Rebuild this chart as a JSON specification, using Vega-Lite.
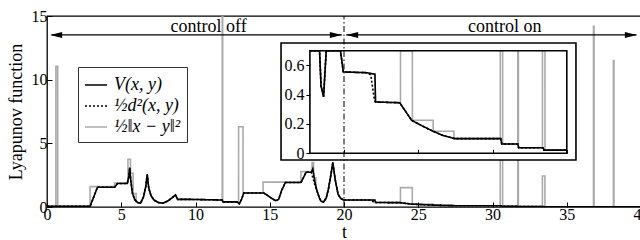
{
  "$schema": "https://vega.github.io/schema/vega-lite/v6.json",
  "width": 594,
  "height": 191,
  "autosize": "none",
  "padding": {"left": 47, "top": 16, "right": 0, "bottom": 33},
  "background": "white",
  "config": {
    "view": {"stroke": "black", "strokeWidth": 1.3},
    "font": "Liberation Serif",
    "axis": {"grid": false, "domain": false, "tickColor": "black", "labelColor": "black", "titleColor": "black", "labelFont": "Liberation Serif", "titleFont": "Liberation Serif", "titleFontWeight": "normal", "labelFontSize": 16, "titleFontSize": 18}
  },
  "datasets": {
    "curves": [
      {"s":"V","t":0,"v":0.05},{"s":"V","t":2.9,"v":0.05},{"s":"V","t":3.05,"v":0.5},{"s":"V","t":3.4,"v":1.55},{"s":"V","t":4.55,"v":1.55},{"s":"V","t":4.75,"v":1.85},{"s":"V","t":5.4,"v":1.85},{"s":"V","t":5.5,"v":2.3},{"s":"V","t":5.57,"v":3.1},{"s":"V","t":5.65,"v":2.0},{"s":"V","t":5.75,"v":1.1},{"s":"V","t":5.9,"v":0.6},{"s":"V","t":6.1,"v":0.35},{"s":"V","t":6.3,"v":0.3},{"s":"V","t":6.5,"v":0.8},{"s":"V","t":6.65,"v":1.6},{"s":"V","t":6.75,"v":2.55},{"s":"V","t":6.85,"v":1.5},{"s":"V","t":7.0,"v":0.9},{"s":"V","t":7.2,"v":0.55},{"s":"V","t":7.5,"v":0.35},{"s":"V","t":7.8,"v":0.3},{"s":"V","t":8.1,"v":0.45},{"s":"V","t":8.4,"v":0.7},{"s":"V","t":8.65,"v":0.95},{"s":"V","t":8.8,"v":0.6},{"s":"V","t":9.5,"v":0.6},{"s":"V","t":11.8,"v":0.55},{"s":"V","t":11.85,"v":0.4},{"s":"V","t":12.8,"v":0.4},{"s":"V","t":12.95,"v":0.25},{"s":"V","t":13.1,"v":0.6},{"s":"V","t":13.25,"v":1.1},{"s":"V","t":14.6,"v":1.1},{"s":"V","t":14.8,"v":0.95},{"s":"V","t":15.1,"v":0.7},{"s":"V","t":15.4,"v":0.5},{"s":"V","t":15.6,"v":0.6},{"s":"V","t":15.8,"v":1.3},{"s":"V","t":16.05,"v":1.92},{"s":"V","t":17.1,"v":1.92},{"s":"V","t":17.45,"v":2.73},{"s":"V","t":17.8,"v":2.73},{"s":"V","t":17.9,"v":3.0},{"s":"V","t":18.05,"v":1.9},{"s":"V","t":18.2,"v":1.2},{"s":"V","t":18.35,"v":0.7},{"s":"V","t":18.45,"v":0.46},{"s":"V","t":18.62,"v":0.385},{"s":"V","t":18.8,"v":0.7},{"s":"V","t":18.95,"v":1.4},{"s":"V","t":19.1,"v":2.4},{"s":"V","t":19.25,"v":3.5},{"s":"V","t":19.4,"v":2.2},{"s":"V","t":19.6,"v":1.0},{"s":"V","t":19.76,"v":0.7},{"s":"V","t":19.95,"v":0.555},{"s":"V","t":21.5,"v":0.55},{"s":"V","t":22.08,"v":0.54},{"s":"V","t":22.12,"v":0.35},{"s":"V","t":23.75,"v":0.345},{"s":"V","t":24.55,"v":0.225},{"s":"V","t":25.3,"v":0.185},{"s":"V","t":26.0,"v":0.15},{"s":"V","t":26.7,"v":0.12},{"s":"V","t":27.45,"v":0.1},{"s":"V","t":30.55,"v":0.1},{"s":"V","t":30.62,"v":0.063},{"s":"V","t":31.7,"v":0.063},{"s":"V","t":31.76,"v":0.038},{"s":"V","t":33.4,"v":0.038},{"s":"V","t":33.46,"v":0.022},{"s":"V","t":35,"v":0.022},{"s":"V","t":40,"v":0.015},
      {"s":"d","t":0,"v":0.05},{"s":"d","t":2.9,"v":0.05},{"s":"d","t":3.05,"v":0.5},{"s":"d","t":3.4,"v":1.55},{"s":"d","t":4.55,"v":1.55},{"s":"d","t":4.75,"v":1.85},{"s":"d","t":5.4,"v":1.85},{"s":"d","t":5.5,"v":2.3},{"s":"d","t":5.57,"v":3.1},{"s":"d","t":5.65,"v":2.0},{"s":"d","t":5.75,"v":1.1},{"s":"d","t":5.9,"v":0.6},{"s":"d","t":6.1,"v":0.35},{"s":"d","t":6.3,"v":0.3},{"s":"d","t":6.5,"v":0.8},{"s":"d","t":6.65,"v":1.6},{"s":"d","t":6.75,"v":2.55},{"s":"d","t":6.85,"v":1.5},{"s":"d","t":7.0,"v":0.9},{"s":"d","t":7.2,"v":0.55},{"s":"d","t":7.5,"v":0.35},{"s":"d","t":7.8,"v":0.3},{"s":"d","t":8.1,"v":0.45},{"s":"d","t":8.4,"v":0.7},{"s":"d","t":8.65,"v":0.95},{"s":"d","t":8.8,"v":0.6},{"s":"d","t":9.5,"v":0.6},{"s":"d","t":11.8,"v":0.55},{"s":"d","t":11.85,"v":0.4},{"s":"d","t":12.8,"v":0.4},{"s":"d","t":12.95,"v":0.25},{"s":"d","t":13.1,"v":0.6},{"s":"d","t":13.25,"v":1.1},{"s":"d","t":14.6,"v":1.1},{"s":"d","t":14.8,"v":0.95},{"s":"d","t":15.1,"v":0.7},{"s":"d","t":15.4,"v":0.5},{"s":"d","t":15.6,"v":0.6},{"s":"d","t":15.8,"v":1.3},{"s":"d","t":16.05,"v":1.92},{"s":"d","t":17.1,"v":1.92},{"s":"d","t":17.45,"v":2.73},{"s":"d","t":17.8,"v":2.73},{"s":"d","t":17.9,"v":2.3},{"s":"d","t":18.05,"v":1.7},{"s":"d","t":18.2,"v":1.2},{"s":"d","t":18.35,"v":0.7},{"s":"d","t":18.45,"v":0.46},{"s":"d","t":18.62,"v":0.385},{"s":"d","t":18.8,"v":0.7},{"s":"d","t":18.95,"v":1.4},{"s":"d","t":19.1,"v":2.4},{"s":"d","t":19.25,"v":3.5},{"s":"d","t":19.4,"v":2.2},{"s":"d","t":19.6,"v":1.0},{"s":"d","t":19.76,"v":0.7},{"s":"d","t":19.95,"v":0.555},{"s":"d","t":21.5,"v":0.55},{"s":"d","t":21.8,"v":0.535},{"s":"d","t":22.05,"v":0.36},{"s":"d","t":22.12,"v":0.35},{"s":"d","t":23.75,"v":0.345},{"s":"d","t":24.55,"v":0.225},{"s":"d","t":25.3,"v":0.185},{"s":"d","t":26.0,"v":0.15},{"s":"d","t":26.7,"v":0.12},{"s":"d","t":27.45,"v":0.1},{"s":"d","t":30.55,"v":0.1},{"s":"d","t":30.62,"v":0.063},{"s":"d","t":31.7,"v":0.063},{"s":"d","t":31.76,"v":0.038},{"s":"d","t":33.4,"v":0.038},{"s":"d","t":33.46,"v":0.022},{"s":"d","t":35,"v":0.022},{"s":"d","t":40,"v":0.015},
      {"s":"n","t":0,"v":0.05},{"s":"n","t":0.6,"v":0.05},{"s":"n","t":0.601,"v":11.05},{"s":"n","t":0.72,"v":11.05},{"s":"n","t":0.721,"v":0.05},{"s":"n","t":2.9,"v":0.05},{"s":"n","t":2.901,"v":1.6},{"s":"n","t":4.55,"v":1.6},{"s":"n","t":4.551,"v":1.88},{"s":"n","t":5.45,"v":1.88},{"s":"n","t":5.451,"v":3.75},{"s":"n","t":5.62,"v":3.75},{"s":"n","t":5.621,"v":2.65},{"s":"n","t":5.8,"v":2.65},{"s":"n","t":5.801,"v":1.05},{"s":"n","t":6.0,"v":1.05},{"s":"n","t":6.001,"v":0.4},{"s":"n","t":6.1,"v":0.35},{"s":"n","t":6.3,"v":0.3},{"s":"n","t":6.5,"v":0.8},{"s":"n","t":6.65,"v":1.6},{"s":"n","t":6.75,"v":2.55},{"s":"n","t":6.85,"v":1.5},{"s":"n","t":7.0,"v":0.9},{"s":"n","t":7.2,"v":0.55},{"s":"n","t":7.5,"v":0.35},{"s":"n","t":7.8,"v":0.3},{"s":"n","t":8.1,"v":0.45},{"s":"n","t":8.4,"v":0.7},{"s":"n","t":8.65,"v":0.95},{"s":"n","t":8.8,"v":0.6},{"s":"n","t":9.5,"v":0.6},{"s":"n","t":11.8,"v":0.55},{"s":"n","t":11.801,"v":16},{"s":"n","t":11.83,"v":16},{"s":"n","t":11.831,"v":0.4},{"s":"n","t":12.9,"v":0.4},{"s":"n","t":12.901,"v":6.3},{"s":"n","t":13.2,"v":6.3},{"s":"n","t":13.201,"v":1.1},{"s":"n","t":14.55,"v":1.1},{"s":"n","t":14.551,"v":1.95},{"s":"n","t":17.1,"v":1.95},{"s":"n","t":17.101,"v":2.78},{"s":"n","t":17.85,"v":2.78},{"s":"n","t":17.851,"v":3.5},{"s":"n","t":17.95,"v":3.5},{"s":"n","t":17.951,"v":2.3},{"s":"n","t":18.1,"v":2.3},{"s":"n","t":18.101,"v":1.5},{"s":"n","t":18.2,"v":1.2},{"s":"n","t":18.35,"v":0.7},{"s":"n","t":18.45,"v":0.46},{"s":"n","t":18.62,"v":0.385},{"s":"n","t":18.8,"v":0.7},{"s":"n","t":18.95,"v":1.4},{"s":"n","t":19.1,"v":2.4},{"s":"n","t":19.25,"v":3.5},{"s":"n","t":19.4,"v":2.2},{"s":"n","t":19.6,"v":1.0},{"s":"n","t":19.76,"v":0.7},{"s":"n","t":19.95,"v":0.555},{"s":"n","t":21.5,"v":0.55},{"s":"n","t":22.08,"v":0.54},{"s":"n","t":22.12,"v":0.35},{"s":"n","t":23.8,"v":0.345},{"s":"n","t":23.801,"v":1.52},{"s":"n","t":24.6,"v":1.52},{"s":"n","t":24.601,"v":0.225},{"s":"n","t":26.0,"v":0.225},{"s":"n","t":26.001,"v":0.15},{"s":"n","t":27.4,"v":0.15},{"s":"n","t":27.401,"v":0.1},{"s":"n","t":30.52,"v":0.1},{"s":"n","t":30.521,"v":7.0},{"s":"n","t":30.68,"v":7.0},{"s":"n","t":30.681,"v":0.063},{"s":"n","t":31.7,"v":0.063},{"s":"n","t":31.701,"v":8.0},{"s":"n","t":31.74,"v":8.0},{"s":"n","t":31.741,"v":0.038},{"s":"n","t":33.36,"v":0.038},{"s":"n","t":33.361,"v":2.44},{"s":"n","t":33.53,"v":2.44},{"s":"n","t":33.531,"v":0.022},{"s":"n","t":35,"v":0.021},{"s":"n","t":36.8,"v":0.02},{"s":"n","t":36.801,"v":14.2},{"s":"n","t":36.84,"v":14.2},{"s":"n","t":36.841,"v":0.02},{"s":"n","t":38.14,"v":0.018},{"s":"n","t":38.141,"v":11.5},{"s":"n","t":38.18,"v":11.5},{"s":"n","t":38.181,"v":0.018},{"s":"n","t":40,"v":0.015}
    ]
  },
  "data": {"name": "curves"},
  "resolve": {"scale": {"x": "independent", "y": "independent"}, "axis": {"x": "independent", "y": "independent"}},
  "layer": [
    {
      "layer": [
        {
          "transform": [{"filter": "datum.s == 'n'"}],
          "mark": {"type": "line", "clip": true, "strokeWidth": 1.6},
          "encoding": {
            "x": {"field": "t", "type": "quantitative", "scale": {"domain": [0, 40], "nice": false},
                  "axis": {"orient": "bottom", "values": [0,5,10,15,20,25,30,35,40], "title": "t", "tickSize": -5, "labelPadding": 4, "titlePadding": 1, "labelFlush": false, "zindex": 3}},
            "y": {"field": "v", "type": "quantitative", "scale": {"domain": [0, 15], "nice": false},
                  "axis": {"orient": "left", "values": [0,5,10,15], "title": "Lyapunov function", "tickSize": -5, "labelPadding": 5, "titlePadding": 6, "zindex": 3}},
            "color": {"field": "s", "type": "nominal", "scale": {"domain": ["V","d","n"], "range": ["black","black","#aaaaaa"]},
                      "legend": {"orient": "none", "legendX": 31, "legendY": 51, "title": null, "strokeColor": "#333", "fillColor": "white", "padding": 6, "symbolType": "stroke", "symbolSize": 484, "symbolStrokeWidth": 1.5, "labelFont": "Liberation Serif", "labelFontSize": 18, "labelFontStyle": "italic", "labelColor": "black", "rowPadding": 0, "labelOffset": 6,
                                 "labelExpr": "datum.value == 'V' ? 'V(x, y)' : datum.value == 'd' ? '½d²(x, y)' : '½‖x − y‖²'"}},
            "strokeDash": {"field": "s", "type": "nominal", "scale": {"domain": ["V","d","n"], "range": [[1,0],[2,2],[1,0]]}, "legend": null}
          }
        },
        {
          "transform": [{"filter": "datum.s == 'V'"}],
          "mark": {"type": "line", "clip": true, "strokeWidth": 1.6},
          "encoding": {
            "x": {"field": "t", "type": "quantitative"},
            "y": {"field": "v", "type": "quantitative"},
            "color": {"field": "s", "type": "nominal"},
            "strokeDash": {"field": "s", "type": "nominal"}
          }
        },
        {
          "transform": [{"filter": "datum.s == 'd'"}],
          "mark": {"type": "line", "clip": true, "strokeWidth": 1.6},
          "encoding": {
            "x": {"field": "t", "type": "quantitative"},
            "y": {"field": "v", "type": "quantitative"},
            "color": {"field": "s", "type": "nominal"},
            "strokeDash": {"field": "s", "type": "nominal"}
          }
        },
        {
          "data": {"values": [{}]},
          "mark": {"type": "rect", "fill": "white", "stroke": "black", "strokeWidth": 1.6},
          "encoding": {
            "x": {"datum": 15.76, "type": "quantitative"}, "x2": {"datum": 35.62},
            "y": {"datum": 3.69, "type": "quantitative"}, "y2": {"datum": 12.88}
          }
        },
        {
          "data": {"values": [{}]},
          "mark": {"type": "rule", "color": "black", "strokeWidth": 1, "strokeDash": [6, 2.5, 1.5, 2.5]},
          "encoding": {
            "x": {"datum": 20, "type": "quantitative"},
            "y": {"datum": 0, "type": "quantitative"}, "y2": {"datum": 15}
          }
        },
        {
          "data": {"values": [{}]},
          "mark": {"type": "rule", "color": "black", "strokeWidth": 1.2},
          "encoding": {
            "x": {"datum": 0.3, "type": "quantitative"}, "x2": {"datum": 19.85},
            "y": {"datum": 13.51, "type": "quantitative"}
          }
        },
        {
          "data": {"values": [{}]},
          "mark": {"type": "rule", "color": "black", "strokeWidth": 1.2},
          "encoding": {
            "x": {"datum": 20.15, "type": "quantitative"}, "x2": {"datum": 39.7},
            "y": {"datum": 13.51, "type": "quantitative"}
          }
        },
        {
          "data": {"values": [{}]},
          "mark": {"type": "point", "filled": true, "color": "black", "opacity": 1, "size": 144, "shape": "M-1,0L1,-0.5L1,0.5Z"},
          "encoding": {
            "x": {"datum": 0.62, "type": "quantitative"},
            "y": {"datum": 13.51, "type": "quantitative"}
          }
        },
        {
          "data": {"values": [{}]},
          "mark": {"type": "point", "filled": true, "color": "black", "opacity": 1, "size": 144, "shape": "M-1,0L1,-0.5L1,0.5Z"},
          "encoding": {
            "x": {"datum": 20.55, "type": "quantitative"},
            "y": {"datum": 13.51, "type": "quantitative"}
          }
        },
        {
          "data": {"values": [{}]},
          "mark": {"type": "point", "filled": true, "color": "black", "opacity": 1, "size": 144, "shape": "M1,0L-1,-0.5L-1,0.5Z"},
          "encoding": {
            "x": {"datum": 19.45, "type": "quantitative"},
            "y": {"datum": 13.51, "type": "quantitative"}
          }
        },
        {
          "data": {"values": [{}]},
          "mark": {"type": "point", "filled": true, "color": "black", "opacity": 1, "size": 144, "shape": "M1,0L-1,-0.5L-1,0.5Z"},
          "encoding": {
            "x": {"datum": 39.32, "type": "quantitative"},
            "y": {"datum": 13.51, "type": "quantitative"}
          }
        },
        {
          "data": {"values": [{"label": "control off", "t": 10.88}, {"label": "control on", "t": 30.82}]},
          "mark": {"type": "text", "font": "Liberation Serif", "fontSize": 18, "baseline": "alphabetic", "align": "center", "color": "black"},
          "encoding": {
            "x": {"field": "t", "type": "quantitative"},
            "y": {"datum": 13.74, "type": "quantitative"},
            "text": {"field": "label"}
          }
        }
      ]
    },
    {
      "transform": [{"filter": "datum.t >= 17.3 && datum.t <= 36.5"}],
      "layer": [
        {
          "transform": [{"filter": "datum.s == 'n'"}],
          "mark": {"type": "line", "strokeWidth": 1.6},
          "encoding": {
            "x": {"field": "t", "type": "quantitative", "scale": {"domain": [17.7, 35], "range": [262.9, 519.8], "nice": false, "clamp": true},
                  "axis": {"orient": "bottom", "offset": -53.7, "values": [20, 25, 30, 35], "labels": false, "title": null, "tickSize": -4, "zindex": 3}},
            "y": {"field": "v", "type": "quantitative", "scale": {"domain": [0, 0.7], "range": [137.3, 34.7], "nice": false, "clamp": true},
                  "axis": {"orient": "left", "offset": -262.9, "values": [0, 0.2, 0.4, 0.6], "format": "~g", "title": null, "tickSize": 4, "labelPadding": 2, "zindex": 3}},
            "color": {"field": "s", "type": "nominal"},
            "strokeDash": {"field": "s", "type": "nominal"}
          }
        },
        {
          "transform": [{"filter": "datum.s == 'V'"}],
          "mark": {"type": "line", "strokeWidth": 1.6},
          "encoding": {
            "x": {"field": "t", "type": "quantitative"},
            "y": {"field": "v", "type": "quantitative"},
            "color": {"field": "s", "type": "nominal"},
            "strokeDash": {"field": "s", "type": "nominal"}
          }
        },
        {
          "transform": [{"filter": "datum.s == 'd'"}],
          "mark": {"type": "line", "strokeWidth": 1.6},
          "encoding": {
            "x": {"field": "t", "type": "quantitative"},
            "y": {"field": "v", "type": "quantitative"},
            "color": {"field": "s", "type": "nominal"},
            "strokeDash": {"field": "s", "type": "nominal"}
          }
        },
        {
          "data": {"values": [{}]},
          "mark": {"type": "rect", "fill": null, "fillOpacity": 0, "stroke": "black", "strokeWidth": 1.6},
          "encoding": {
            "x": {"datum": 17.7, "type": "quantitative"}, "x2": {"datum": 35},
            "y": {"datum": 0, "type": "quantitative"}, "y2": {"datum": 0.7}
          }
        }
      ]
    }
  ]
}
